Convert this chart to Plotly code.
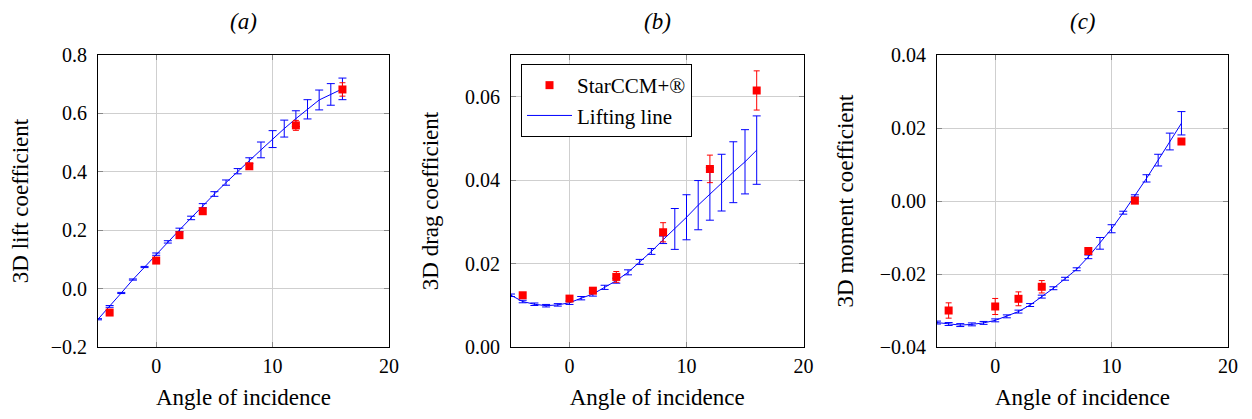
import plotly.graph_objects as go

# ---------------- data ----------------
angles_ll = [-5, -4, -3, -2, -1, 0, 1, 2, 3, 4, 5, 6, 7, 8, 9, 10, 11, 12, 13, 14, 15, 16]
angles_cfd = [-4, 0, 2, 4, 8, 12, 16]

lift_ll = [-0.105, -0.061, -0.015, 0.031, 0.074, 0.118, 0.160, 0.201, 0.242, 0.284, 0.324,
           0.363, 0.402, 0.438, 0.475, 0.512, 0.548, 0.582, 0.614, 0.646, 0.665, 0.684]
lift_ll_err = [0.002, 0.003, 0.002, 0.002, 0.002, 0.004, 0.004, 0.006, 0.006, 0.007, 0.008,
               0.009, 0.009, 0.010, 0.027, 0.029, 0.029, 0.027, 0.033, 0.034, 0.037, 0.037]
lift_cfd = [-0.082, 0.096, 0.183, 0.265, 0.419, 0.559, 0.682]
lift_cfd_err = [0.004, 0.004, 0.004, 0.005, 0.008, 0.017, 0.023]

drag_ll = [0.0124, 0.0109, 0.01025, 0.0099, 0.0101, 0.0106, 0.0117, 0.0127, 0.0143, 0.0159, 0.0179,
           0.0204, 0.0229, 0.0257, 0.0283, 0.0311, 0.0340, 0.0367, 0.0394, 0.0419, 0.0444, 0.0472]
drag_ll_err = [0.0003, 0.0003, 0.0003, 0.0003, 0.0003, 0.0004, 0.0004, 0.0005, 0.0005, 0.0006, 0.0006,
               0.0006, 0.0007, 0.0009, 0.0049, 0.0054, 0.0059, 0.0063, 0.0068, 0.0073, 0.0077, 0.0082]
drag_cfd = [0.0124, 0.0116, 0.0135, 0.0168, 0.0275, 0.0427, 0.0615]
drag_cfd_err = [0.0005, 0.0005, 0.0006, 0.0013, 0.0023, 0.0033, 0.0047]

moment_ll = [-0.0333, -0.0337, -0.0340, -0.0338, -0.0334, -0.0327, -0.0316, -0.0303, -0.0285, -0.0262, -0.0239,
             -0.0213, -0.0187, -0.0153, -0.0116, -0.0076, -0.0032, 0.0014, 0.0062, 0.0112, 0.0163, 0.0213]
moment_ll_err = [0.0004, 0.0004, 0.0004, 0.0004, 0.0004, 0.0004, 0.0004, 0.0004, 0.0004, 0.0004, 0.0004,
                 0.0004, 0.0004, 0.0005, 0.0016, 0.0011, 0.0004, 0.0003, 0.0010, 0.0016, 0.0023, 0.0032]
moment_cfd = [-0.0300, -0.0289, -0.0268, -0.0235, -0.0137, 0.0001, 0.0163]
moment_cfd_err = [0.0021, 0.0022, 0.0019, 0.0017, 0.0005, 0.0004, 0.0005]

panel_titles = ["(a)", "(b)", "(c)"]
y_titles = ["3D lift coefficient", "3D drag coefficient", "3D moment coefficient"]
x_title = "Angle of incidence"
legend_names = ["StarCCM+®", "Lifting line"]

# ---------------- styling ----------------
# The page body has an 8px default margin, so the figure is 8px smaller
# and all pixel positions below are relative to the figure's corner.
W, H = 1244, 411
FONT = "Liberation Serif"
BLUE = "#0000ff"
RED = "#ff0000"
x_domains = [[90 / W, 381 / W], [503 / W, 795.5 / W], [929 / W, 1220 / W]]
y_domain = [(H - 339) / H, (H - 47) / H]
y_ranges = [[-0.2, 0.8], [0.0, 0.07], [-0.04, 0.04]]
y_dticks = [0.2, 0.02, 0.02]
y_formats = [".1f", ".2f", ".2f"]

series = [
    (lift_ll, lift_ll_err, lift_cfd, lift_cfd_err),
    (drag_ll, drag_ll_err, drag_cfd, drag_cfd_err),
    (moment_ll, moment_ll_err, moment_cfd, moment_cfd_err),
]

fig = go.Figure()
for i, (ll, ll_err, cfd, cfd_err) in enumerate(series):
    xa = "x" if i == 0 else f"x{i+1}"
    ya = "y" if i == 0 else f"y{i+1}"
    fig.add_trace(go.Scatter(
        x=angles_ll, y=ll, mode="lines", name=legend_names[1],
        line=dict(color=BLUE, width=1),
        error_y=dict(type="data", array=ll_err, visible=True, color=BLUE, thickness=1, width=4),
        xaxis=xa, yaxis=ya, showlegend=(i == 1), legendrank=2,
    ))
    fig.add_trace(go.Scatter(
        x=angles_cfd, y=cfd, mode="markers", name=legend_names[0],
        marker=dict(color=RED, symbol="square", size=8, line=dict(width=0)),
        error_y=dict(type="data", array=cfd_err, visible=True, color=RED, thickness=1, width=3),
        xaxis=xa, yaxis=ya, showlegend=(i == 1), legendrank=1,
    ))

axis_common = dict(
    showline=True, linecolor="black", linewidth=1, mirror="ticks",
    showgrid=True, gridcolor="#cfcfcf", gridwidth=1,
    ticks="inside", ticklen=5, tickcolor="#888888", tickwidth=1,
    zeroline=False, automargin=False,
    tickfont=dict(family=FONT, size=20, color="black"),
)

layout = dict(
    template="none",
    width=W, height=H, margin=dict(l=0, r=0, t=0, b=0, pad=0), autosize=False,
    paper_bgcolor="white", plot_bgcolor="white",
    font=dict(family=FONT, color="black"),
    legend=dict(x=513 / W, y=(H - 56) / H, xanchor="left", yanchor="top",
                bgcolor="white", bordercolor="black", borderwidth=1,
                font=dict(family=FONT, size=21, color="black"),
                tracegroupgap=0, itemwidth=45),
    annotations=[],
)

for i in range(3):
    sx = "" if i == 0 else str(i + 1)
    layout["xaxis" + sx] = dict(
        axis_common, domain=x_domains[i], range=[-5, 20], tick0=0, dtick=10,
        anchor="y" + sx, ticklabelstandoff=1,
        title=dict(text=x_title, font=dict(family=FONT, size=23, color="black"), standoff=12),
    )
    layout["yaxis" + sx] = dict(
        axis_common, domain=y_domain, range=y_ranges[i], tick0=0, dtick=y_dticks[i],
        tickformat=y_formats[i], anchor="x" + sx, ticklabelstandoff=6,
        title=dict(text=y_titles[i], font=dict(family=FONT, size=23, color="black"), standoff=19),
    )
    cx = (x_domains[i][0] + x_domains[i][1]) / 2
    layout["annotations"].append(dict(
        text=f"<i>{panel_titles[i]}</i>", x=cx, y=1, xref="paper", yref="paper",
        xanchor="center", yanchor="top", showarrow=False, borderpad=0,
        font=dict(family=FONT, size=23, color="black"),
    ))

fig.update_layout(**layout)
fig.write_html("out.html")
